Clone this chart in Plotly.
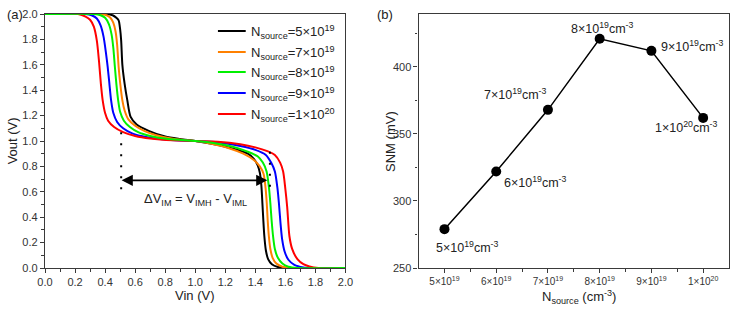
import plotly.graph_objects as go

# ---------------- Panel (a) data: Vout vs Vin for each N_source ----------------
series_names = ["5×10<sup>19</sup>", "7×10<sup>19</sup>", "8×10<sup>19</sup>",
                "9×10<sup>19</sup>", "1×10<sup>20</sup>"]
series_colors = ["#000000", "#FF8000", "#00F000", "#0000FF", "#FF0000"]

vin_5e19 = [0.0, 0.41, 0.45, 0.475, 0.49, 0.50, 0.507, 0.515, 0.53, 0.548, 0.57, 0.61, 0.69, 0.80, 0.90, 1.0,
            1.10, 1.20, 1.28, 1.35, 1.39, 1.415, 1.43, 1.44, 1.447, 1.453, 1.46, 1.47, 1.485, 1.51, 1.55, 1.60, 2.0]
vout_5e19 = [2.0, 2.0, 1.99, 1.97, 1.95, 1.88, 1.79, 1.60, 1.45, 1.32, 1.19, 1.13, 1.08, 1.035, 1.015, 1.0,
             0.98, 0.955, 0.93, 0.90, 0.86, 0.81, 0.75, 0.65, 0.51, 0.38, 0.25, 0.14, 0.07, 0.03, 0.008, 0.0, 0.0]

vin_7e19 = [0.0, 0.37, 0.41, 0.435, 0.455, 0.47, 0.48, 0.49, 0.50, 0.515, 0.53, 0.555, 0.60, 0.66, 0.74, 0.86, 1.0,
            1.10, 1.22, 1.32, 1.39, 1.43, 1.455, 1.468, 1.476, 1.482, 1.49, 1.50, 1.515, 1.54, 1.58, 1.64, 2.0]
vout_7e19 = [2.0, 2.0, 1.99, 1.97, 1.93, 1.86, 1.76, 1.585, 1.46, 1.32, 1.24, 1.17, 1.12, 1.08, 1.045, 1.015, 1.0,
             0.98, 0.945, 0.90, 0.85, 0.80, 0.74, 0.63, 0.51, 0.38, 0.25, 0.15, 0.08, 0.035, 0.01, 0.0, 0.0]

vin_8e19 = [0.0, 0.33, 0.37, 0.40, 0.425, 0.443, 0.455, 0.465, 0.475, 0.487, 0.50, 0.525, 0.565, 0.62, 0.70, 0.82, 1.0,
            1.12, 1.25, 1.34, 1.415, 1.45, 1.475, 1.49, 1.50, 1.508, 1.518, 1.53, 1.55, 1.58, 1.62, 1.68, 2.0]
vout_8e19 = [2.0, 2.0, 1.99, 1.97, 1.92, 1.84, 1.73, 1.585, 1.45, 1.32, 1.23, 1.16, 1.11, 1.07, 1.04, 1.015, 1.0,
             0.985, 0.955, 0.92, 0.88, 0.83, 0.76, 0.64, 0.51, 0.38, 0.25, 0.15, 0.08, 0.035, 0.01, 0.0, 0.0]

vin_9e19 = [0.0, 0.27, 0.31, 0.345, 0.37, 0.39, 0.405, 0.417, 0.428, 0.44, 0.455, 0.48, 0.52, 0.58, 0.68, 0.82, 1.0,
            1.15, 1.30, 1.40, 1.47, 1.505, 1.53, 1.547, 1.557, 1.567, 1.578, 1.595, 1.62, 1.66, 1.72, 1.78, 2.0]
vout_9e19 = [2.0, 2.0, 1.99, 1.965, 1.91, 1.82, 1.70, 1.585, 1.46, 1.32, 1.22, 1.15, 1.10, 1.06, 1.03, 1.01, 1.0,
             0.99, 0.96, 0.93, 0.89, 0.83, 0.76, 0.63, 0.51, 0.36, 0.23, 0.13, 0.065, 0.025, 0.005, 0.0, 0.0]

vin_1e20 = [0.0, 0.22, 0.27, 0.30, 0.325, 0.345, 0.36, 0.372, 0.384, 0.40, 0.42, 0.46, 0.52, 0.60, 0.70, 0.85, 1.0,
            1.15, 1.30, 1.40, 1.48, 1.53, 1.565, 1.585, 1.60, 1.612, 1.627, 1.645, 1.68, 1.72, 1.76, 1.82, 2.0]
vout_1e20 = [2.0, 2.0, 1.98, 1.955, 1.90, 1.79, 1.62, 1.45, 1.32, 1.22, 1.16, 1.11, 1.07, 1.04, 1.02, 1.005, 1.0,
             0.995, 0.975, 0.95, 0.92, 0.89, 0.83, 0.76, 0.62, 0.48, 0.25, 0.15, 0.07, 0.03, 0.012, 0.0, 0.0]

vin_list = [vin_5e19, vin_7e19, vin_8e19, vin_9e19, vin_1e20]
vout_list = [vout_5e19, vout_7e19, vout_8e19, vout_9e19, vout_1e20]
draw_order = [0, 1, 3, 4, 2]

# ---------------- Panel (b) data: SNM vs N_source ----------------
n_source = [5e19, 6e19, 7e19, 8e19, 9e19, 1e20]
snm_mv = [279, 322, 368, 421, 412, 362]
n_ticktext = ["5×10<sup>19</sup>", "6×10<sup>19</sup>", "7×10<sup>19</sup>",
              "8×10<sup>19</sup>", "9×10<sup>19</sup>", "1×10<sup>20</sup>"]
point_labels = ["5×10<sup>19</sup>cm<sup>-3</sup>", "6×10<sup>19</sup>cm<sup>-3</sup>",
                "7×10<sup>19</sup>cm<sup>-3</sup>", "8×10<sup>19</sup>cm<sup>-3</sup>",
                "9×10<sup>19</sup>cm<sup>-3</sup>", "1×10<sup>20</sup>cm<sup>-3</sup>"]

FONT = "Liberation Sans, Arial, sans-serif"
AX = "#3a3a3a"
TXT = "#222222"

fig = go.Figure()

for i in draw_order:
    fig.add_trace(go.Scatter(
        x=vin_list[i], y=vout_list[i], mode="lines",
        line=dict(color=series_colors[i], width=2, shape="spline", smoothing=0.75),
        showlegend=False, xaxis="x", yaxis="y", cliponaxis=False,
    ))

fig.add_trace(go.Scatter(
    x=n_source, y=snm_mv, mode="lines+markers",
    line=dict(color="#000000", width=1.5),
    marker=dict(color="#000000", size=10),
    showlegend=False, xaxis="x2", yaxis="y2",
))

shapes = []
annotations = []

# manual legend for panel (a)
legend_rows = [1.866, 1.701, 1.543, 1.378, 1.213]
for i, yrow in enumerate(legend_rows):
    shapes.append(dict(type="line", xref="x", yref="y", x0=1.151, x1=1.336, y0=yrow, y1=yrow,
                       line=dict(color=series_colors[i], width=2)))
    annotations.append(dict(xref="x", yref="y", x=1.355, y=yrow - 0.01, xanchor="left", yanchor="middle",
                            text="N<sub>source</sub>=" + series_names[i], showarrow=False,
                            font=dict(family=FONT, size=13, color=TXT)))

# dotted guide lines
shapes.append(dict(type="line", xref="x", yref="y", x0=0.507, x1=0.507, y0=0.62, y1=1.09,
                   line=dict(color="#000000", width=2, dash="2px,9px")))
shapes.append(dict(type="line", xref="x", yref="y", x0=1.497, x1=1.497, y0=0.64, y1=0.92,
                   line=dict(color="#000000", width=2, dash="2px,9px")))

# double arrow
annotations.append(dict(xref="x", yref="y", axref="x", ayref="y", x=0.51, y=0.69, ax=1.49, ay=0.69,
                        showarrow=True, arrowhead=2, arrowside="end+start", arrowsize=1.4,
                        arrowwidth=1.6, arrowcolor="#000000", text=""))
annotations.append(dict(xref="x", yref="y", x=1.005, y=0.54, showarrow=False,
                        text="ΔV<sub>IM</sub> = V<sub>IMH</sub> - V<sub>IML</sub>",
                        font=dict(family=FONT, size=13, color=TXT)))

# point labels for panel (b)
label_pos = [(5.44e19, 266, "center"), (6.12e19, 314, "left"), (6.36e19, 380, "center"),
             (8.05e19, 429, "center"), (9.14e19, 416, "left"), (9.67e19, 355, "center")]
for (lx, ly, anc), txt in zip(label_pos, point_labels):
    annotations.append(dict(xref="x2", yref="y2", x=lx, y=ly, xanchor=anc, yanchor="middle",
                            text=txt, showarrow=False, font=dict(family=FONT, size=12.5, color=TXT)))

# axis titles and panel tags
annotations += [
    dict(xref="paper", yref="paper", x=-0.0477, y=0.5, text="Vout (V)", textangle=-90, showarrow=False,
         xanchor="center", yanchor="middle", font=dict(family=FONT, size=13, color=TXT)),
    dict(xref="paper", yref="paper", x=0.2197, y=-0.11, text="Vin (V)", showarrow=False,
         xanchor="center", yanchor="middle", font=dict(family=FONT, size=13, color=TXT)),
    dict(xref="paper", yref="paper", x=0.5043, y=0.5, text="SNM (mV)", textangle=-90, showarrow=False,
         xanchor="center", yanchor="middle", font=dict(family=FONT, size=13, color=TXT)),
    dict(xref="paper", yref="paper", x=0.780, y=-0.115, text="N<sub>source</sub> (cm<sup>-3</sup>)",
         showarrow=False, xanchor="center", yanchor="middle", font=dict(family=FONT, size=13, color=TXT)),
    dict(xref="paper", yref="paper", x=-0.0578, y=1.0, text="(a)", showarrow=False,
         xanchor="left", yanchor="middle", font=dict(family=FONT, size=13, color=TXT)),
    dict(xref="paper", yref="paper", x=0.497, y=1.0, text="(b)", showarrow=False,
         xanchor="center", yanchor="middle", font=dict(family=FONT, size=13, color=TXT)),
]

axis_common = dict(showline=True, linecolor=AX, linewidth=1.3, mirror=True, ticks="outside",
                   ticklen=4, tickwidth=1.2, tickcolor=AX, showgrid=False, zeroline=False,
                   tickfont=dict(family=FONT, size=11, color="#333333"))

fig.update_layout(
    width=743, height=309,
    margin=dict(l=45, r=6, t=14, b=41),
    paper_bgcolor="white", plot_bgcolor="white",
    shapes=shapes, annotations=annotations,
    xaxis=dict(domain=[0, 0.4393], range=[0, 2], tickmode="linear", tick0=0, dtick=0.2,
               tickformat=".1f", minor=dict(ticks="outside", ticklen=2.5, tickcolor=AX, dtick=0.1, tick0=0),
               anchor="y", **axis_common),
    yaxis=dict(domain=[0, 1], range=[0, 2], tickmode="linear", tick0=0, dtick=0.2,
               tickformat=".1f", minor=dict(ticks="outside", ticklen=2.5, tickcolor=AX, dtick=0.1, tick0=0),
               anchor="x", **axis_common),
    xaxis2=dict(domain=[0.5462, 1], range=[4.5e19, 10.5e19], tickmode="array", tickvals=n_source,
                ticktext=n_ticktext, minor=dict(ticks="outside", ticklen=2.5, tickcolor=AX,
                                                tickvals=[5.5e19, 6.5e19, 7.5e19, 8.5e19, 9.5e19]),
                anchor="y2", **{**axis_common, "tickfont": dict(family=FONT, size=10, color="#333333")}),
    yaxis2=dict(domain=[0, 1], range=[250, 439.5], tickmode="array", tickvals=[250, 300, 350, 400],
                minor=dict(ticks="outside", ticklen=2.5, tickcolor=AX, tickvals=[275, 325, 375, 425]),
                anchor="x2", **axis_common),
)

fig.write_html("out.html")
